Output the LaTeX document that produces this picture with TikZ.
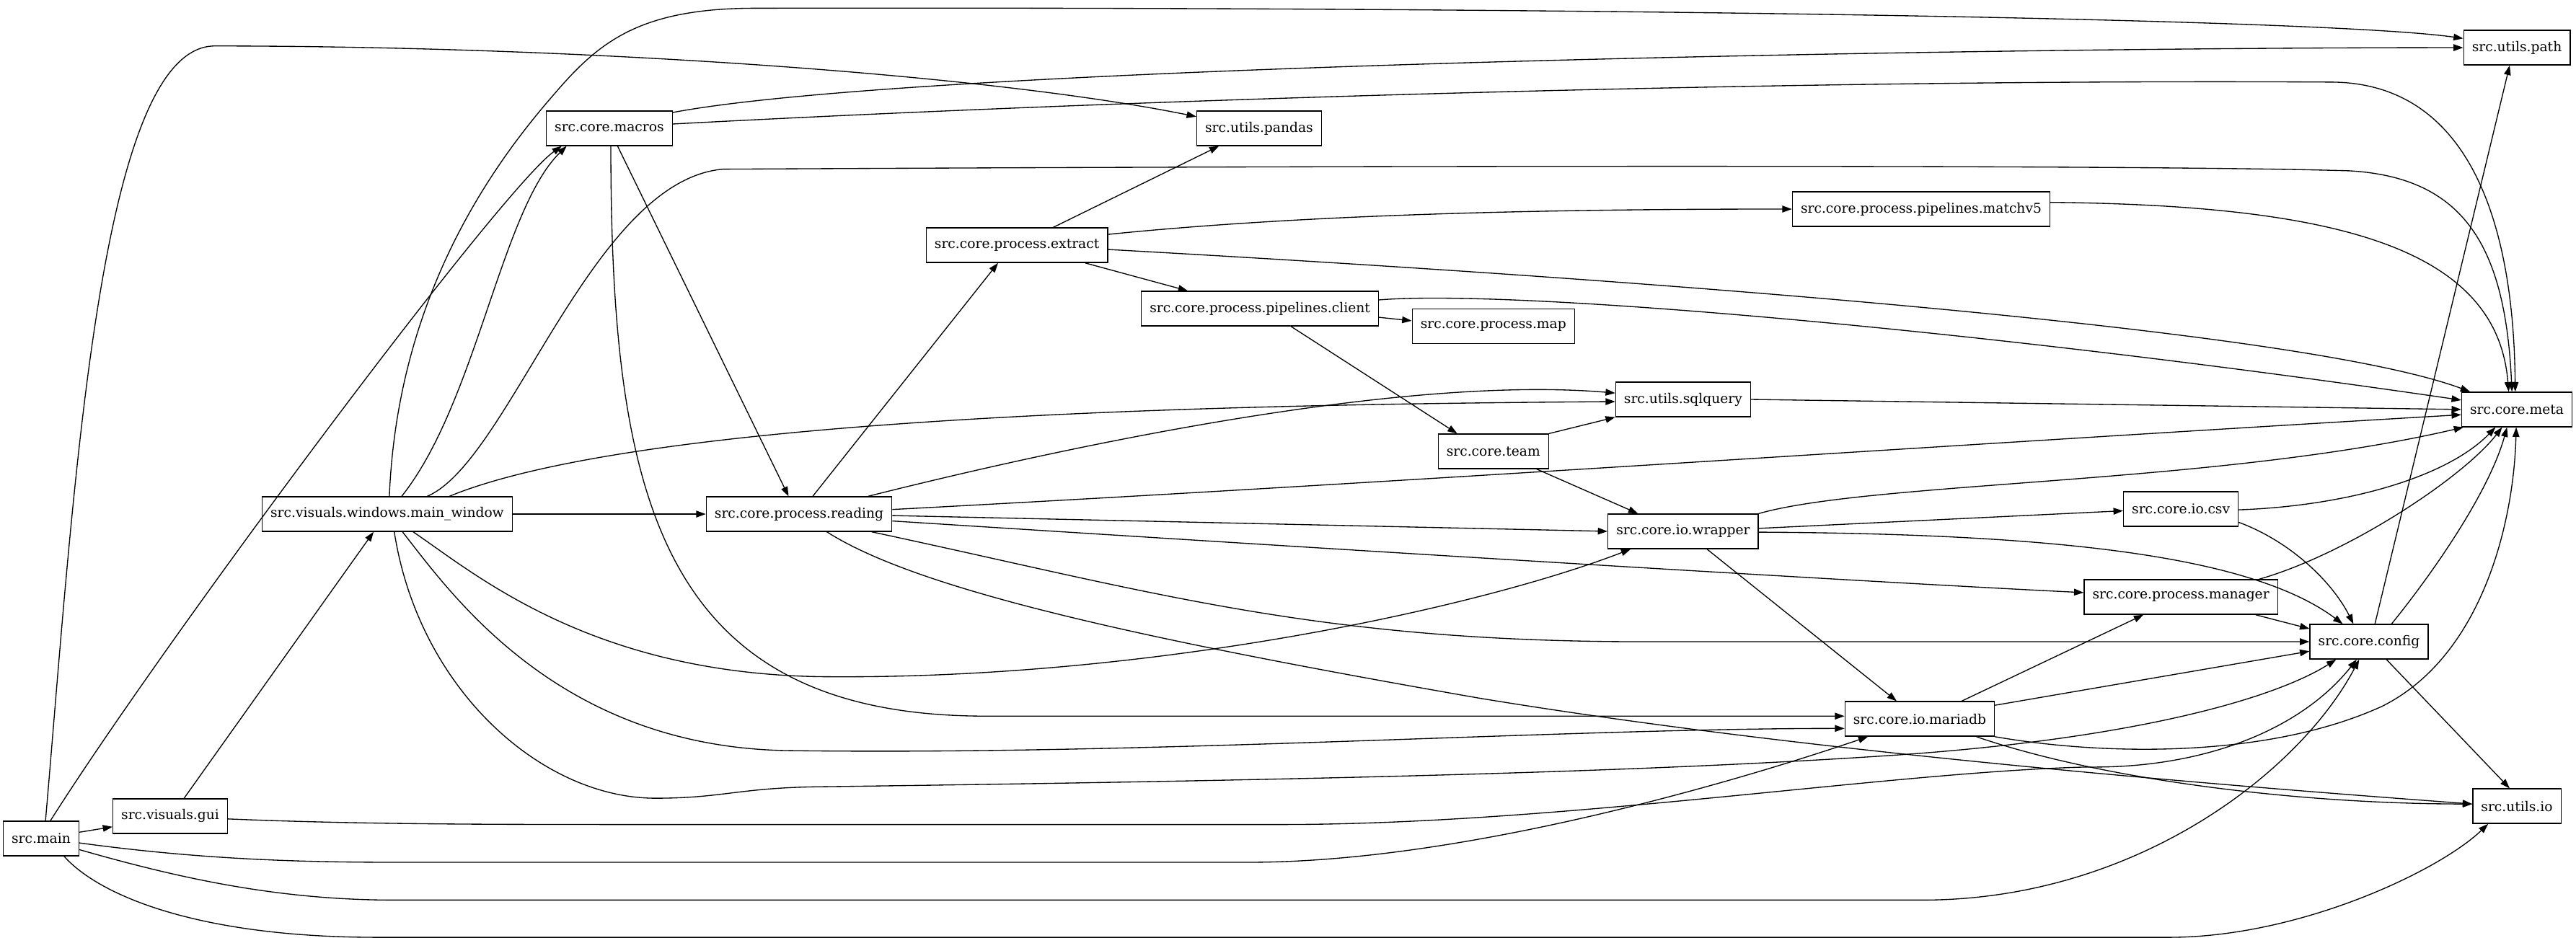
\documentclass[tikz,border=0pt]{standalone}
\usepackage{fontspec}
\setmainfont{DejaVu Serif}
\usetikzlibrary{arrows.meta,calc}
\begin{document}
\begin{tikzpicture}[x=1.70852pt,y=-1.70852pt,
  nd/.style={draw,line width=1pt,rectangle,minimum height=36pt,inner xsep=8.7pt,inner ysep=0pt,font=\fontsize{14}{16}\selectfont},
  e/.style={line width=1pt,-{Triangle[length=10pt,width=7pt]}}]
\useasboundingbox (0,0) rectangle (1568,571.1);
\node[nd] (main) at (25.0,510.5) {src.main};
\node[nd] (gui) at (103.6,496.9) {src.visuals.gui};
\node[nd] (mw) at (235.7,313.0) {src.visuals.windows.main\_window};
\node[nd] (macros) at (370.9,78.1) {src.core.macros};
\node[nd] (pandas) at (766.4,78.1) {src.utils.pandas};
\node[nd] (path) at (1532.0,29.0) {src.utils.path};
\node[nd] (extract) at (619.0,149.3) {src.core.process.extract};
\node[nd] (matchv5) at (1169.4,127.3) {src.core.process.pipelines.matchv5};
\node[nd] (client) at (766.9,187.9) {src.core.process.pipelines.client};
\node[nd] (map) at (909.0,198.6) {src.core.process.map};
\node[nd] (sqlquery) at (1024.5,243.2) {src.utils.sqlquery};
\node[nd] (meta) at (1532.0,249.3) {src.core.meta};
\node[nd] (team) at (909.0,274.8) {src.core.team};
\node[nd] (reading) at (486.4,313.0) {src.core.process.reading};
\node[nd] (wrapper) at (1024.5,323.5) {src.core.io.wrapper};
\node[nd] (csv) at (1327.5,309.9) {src.core.io.csv};
\node[nd] (manager) at (1327.5,363.5) {src.core.process.manager};
\node[nd] (config) at (1442.0,390.7) {src.core.config};
\node[nd] (mariadb) at (1168.5,437.7) {src.core.io.mariadb};
\node[nd] (io) at (1532.0,490.8) {src.utils.io};

\draw[e] ($(main.east)+(0,-3.8)$) -- ($(gui.west)+(0,6.5)$);
\draw[e] ($(main.north)+(5.7,0)$) .. controls (100,390) and (305,115) .. ($(macros.south)+(-29,0)$);
\draw[e] ($(main.north)+(2.7,0)$) .. controls (45,300) and (60,30) .. (130,28) .. controls (350,28) and (600,45) .. ($(pandas.west)+(0,-7.1)$);
\draw[e] ($(mw.north)+(1.3,0)$) .. controls (242,180) and (300,100) .. (337.6,57) .. controls (365,25) and (390,5) .. (460,5) .. controls (1000,4) and (1420,12) .. ($(path.west)+(0,-5.6)$);
\draw[e] ($(macros.north east)+(0,1.2)$) .. controls (560,40) and (1200,29) .. (path.west);
\draw[e] ($(config.north)+(3.6,0)$) -- ($(path.south)+(-4.4,0)$);
\draw[e] ($(extract.north)+(22,0)$) -- ($(pandas.south)+(-24.4,0)$);
\draw[e] ($(mw.north)+(8.8,0)$) .. controls (290,245) and (305,128) .. ($(macros.south)+(-26,0)$);
\draw[e] ($(macros.south)+(5,0)$) -- ($(reading.north)+(-6.4,0)$);
\draw[e] (mw.east) -- (reading.west);
\draw[e] ($(reading.north)+(8.3,0)$) -- ($(extract.south)+(-11.5,0)$);
\draw[e] ($(reading.north)+(42,0)$) .. controls (640,274) and (850,228) .. ($(sqlquery.west)+(0,-3.9)$);
\draw[e] ($(mw.north)+(37.8,0)$) .. controls (400,250) and (800,246) .. ($(sqlquery.west)+(0,1.3)$);
\draw[e] ($(extract.south)+(41.6,0)$) -- ($(client.north)+(-43.9,0)$);
\draw[e] ($(client.east)+(0,5.3)$) -- ($(map.west)+(0,-3.3)$);
\draw[e] ($(extract.east)+(0,-6.6)$) .. controls (800,130) and (950,127.3) .. (matchv5.west);
\draw[e] ($(client.south)+(18.9,0)$) -- ($(team.north)+(-22,0)$);
\draw[e] (team.north east) -- (sqlquery.south west);
\draw[e] ($(team.south)+(26.4,0)$) -- ($(wrapper.north)+(-27.5,0)$);
\draw[e] ($(reading.east)+(0,0.9)$) -- (wrapper.west);
\draw[e] ($(mw.south)+(15.8,0)$) .. controls (290,350) and (360,410) .. (500,412) .. controls (700,414) and (900,370) .. ($(wrapper.south)+(-31.9,0)$);
\draw[e] ($(reading.east)+(0,-2.8)$) .. controls (850,294) and (1200,270) .. ($(meta.west)+(0,3.2)$);
\draw[e] ($(reading.east)+(0,4.2)$) .. controls (900,340) and (1150,355) .. ($(manager.west)+(0,-2.7)$);
\draw[e] ($(reading.south)+(44.2,0)$) .. controls (700,360) and (800,390.7) .. (1000,390.7) -- (config.west);
\draw[e] ($(reading.south)+(16.9,0)$) .. controls (560,360) and (700,390) .. (900,425) .. controls (1100,458) and (1350,478) .. ($(io.west)+(0,-1.3)$);
\draw[e] ($(mw.south)+(9.3,0)$) .. controls (275,362) and (340,455) .. (480,457) .. controls (700,460) and (950,443.5) .. ($(mariadb.west)+(0,5.8)$);
\draw[e] ($(macros.south)+(0.9,0)$) .. controls (372,300) and (400,436) .. (600,436) -- ($(mariadb.west)+(0,-1.7)$);
\draw[e] ($(mw.south)+(4.3,0)$) .. controls (255,420) and (330,486) .. (399,486) .. controls (440,486) and (450,479.5) .. (500,479) .. controls (800,475) and (1000,470) .. (1150,460) .. controls (1300,450) and (1385,425) .. ($(config.south)+(-20,0)$);
\draw[e] ($(gui.east)+(0,1.7)$) .. controls (220,502) and (300,502) .. (400,502) -- (780,502) .. controls (950,502) and (1150,470) .. (1270,467) .. controls (1340,468) and (1400,445) .. ($(config.south)+(-7.5,0)$);
\draw[e] ($(main.east)+(0,2.7)$) .. controls (120,523) and (180,525) .. (240,525) -- (760,525) .. controls (900,525) and (1077,469) .. ($(mariadb.south)+(-31.5,0)$);
\draw[e] ($(main.east)+(0,6.8)$) .. controls (110,535) and (170,548) .. (240,548) -- (1170,548) .. controls (1300,548) and (1400,470) .. ($(config.south)+(-6,0)$);
\draw[e] ($(main.south)+(14,0)$) .. controls (60,545) and (120,570.7) .. (230,570.7) -- (1320,570.7) .. controls (1400,570.7) and (1485,530) .. ($(io.south)+(-17.5,0)$);
\draw[e] ($(gui.north)+(8.4,0)$) -- ($(mw.south)+(-8.3,0)$);
\draw[e] (wrapper.north east) .. controls (1140,293) and (1350,295) .. ($(meta.south west)+(1.4,0)$);
\draw[e] ($(wrapper.east)+(0,-1.8)$) -- ($(csv.west)+(0,1.1)$);
\draw[e] ($(wrapper.east)+(0,0.5)$) .. controls (1250,325) and (1370,338) .. ($(config.north)+(-16,0)$);
\draw[e] ($(wrapper.south)+(14.5,0)$) -- ($(mariadb.north)+(-14,0)$);
\draw[e] ($(csv.east)+(0,0.5)$) .. controls (1430,308) and (1490,290) .. ($(meta.south)+(-13,0)$);
\draw[e] ($(csv.east)+(0,8.1)$) .. controls (1395,330) and (1420,355) .. ($(config.north)+(-9.5,0)$);
\draw[e] ($(manager.north)+(47.5,0)$) .. controls (1430,337) and (1500,290) .. ($(meta.south)+(-9,0)$);
\draw[e] ($(manager.south)+(45.5,0)$) -- ($(config.west)+(0,-7.9)$);
\draw[e] ($(mariadb.north)+(25.5,0)$) -- ($(manager.south)+(-22.8,0)$);
\draw[e] ($(mariadb.east)+(0,-8.3)$) -- ($(config.west)+(0,5.8)$);
\draw[e] (mariadb.south east) .. controls (1280,460) and (1380,462) .. (1450,430) .. controls (1510,400) and (1530,320) .. ($(meta.south)+(-0.4,0)$);
\draw[e] ($(mariadb.south)+(34.5,0)$) .. controls (1280,475) and (1400,489.5) .. ($(io.west)+(0,-1.3)$);
\draw[e] ($(config.north)+(13.7,0)$) .. controls (1480,350) and (1515,300) .. ($(meta.south)+(-6,0)$);
\draw[e] ($(config.south)+(10.6,0)$) -- ($(io.north)+(-4.4,0)$);
\draw[e] (sqlquery.east) -- (meta.west);
\draw[e] ($(extract.east)+(0,2.6)$) .. controls (1000,170) and (1400,200) .. ($(meta.north west)+(5.4,0)$);
\draw[e] ($(client.east)+(0,-5.3)$) .. controls (920,176) and (1200,200) .. ($(meta.west)+(0,-5.7)$);
\draw[e] ($(matchv5.east)+(0,-4.1)$) .. controls (1420,125) and (1520,150) .. ($(meta.north)+(-5,0)$);
\draw[e] ($(macros.east)+(0,-2.6)$) .. controls (700,60) and (1100,48) .. (1420,50) .. controls (1500,51) and (1530,130) .. ($(meta.north)+(-1,0)$);
\draw[e] ($(mw.north)+(24.3,0)$) .. controls (310,281) and (360,110) .. (440,103) .. controls (800,101) and (1300,100) .. (1430,104) .. controls (1500,108) and (1525,150) .. ($(meta.north)+(-3,0)$);
\end{tikzpicture}
\end{document}
